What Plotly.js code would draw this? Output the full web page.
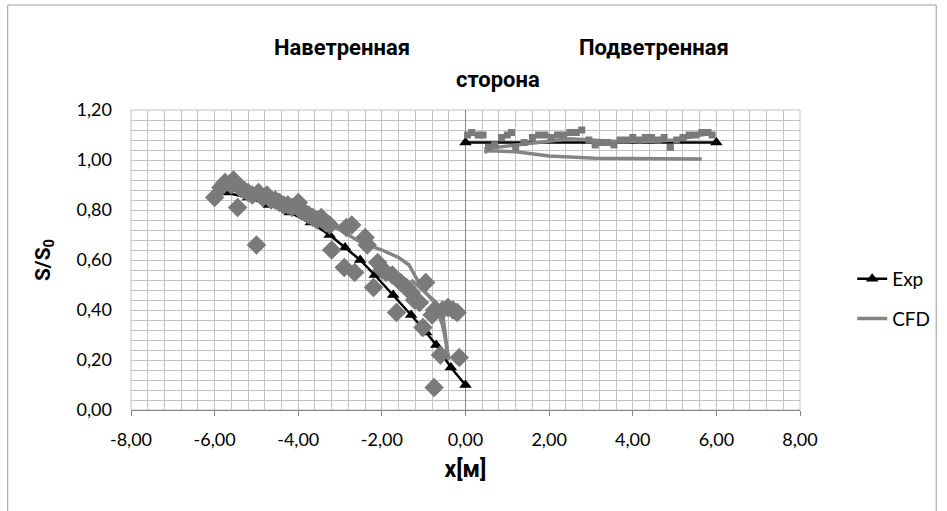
<!DOCTYPE html>
<html>
<head>
<meta charset="utf-8">
<script src="https://cdn.plot.ly/plotly-3.0.1.min.js"></script>
<style>html,body{margin:0;padding:0;background:#fff;}#chart{width:947px;height:511px;}</style>
</head>
<body>
<div id="chart"></div>
<script>
// Exp (black triangles) – windward and leeward sides
const expLeftX = [-5.75, -5.2, -4.7, -4.2, -3.7, -3.25, -2.88, -2.52, -2.17, -1.73, -1.30, -0.94, -0.70, -0.35, 0.0];
const expLeftY = [0.87, 0.85, 0.82, 0.79, 0.75, 0.70, 0.65, 0.60, 0.54, 0.46, 0.38, 0.31, 0.26, 0.17, 0.10];
const expRightX = [0.0, 6.0];
const expRightY = [1.07, 1.07];

// CFD (grey lines)
const cfdLeftX = [-5.8, -5.0, -4.0, -3.0, -2.5, -2.0, -1.6, -1.35, -1.15, -0.95, -0.75, -0.55, -0.45, -0.40];
const cfdLeftY = [0.89, 0.86, 0.80, 0.72, 0.67, 0.64, 0.61, 0.58, 0.52, 0.47, 0.43, 0.34, 0.26, 0.20];
const cfdLeft2X = [-1.3, -1.1, -0.9, -0.7, -0.55, -0.48, -0.44];
const cfdLeft2Y = [0.52, 0.49, 0.46, 0.43, 0.39, 0.30, 0.22];
const cfdRightX = [0.45, 0.55, 1.2, 2.0, 3.1, 4.3, 5.65];
const cfdRightY = [1.030, 1.037, 1.033, 1.016, 1.007, 1.007, 1.004];
const cfdRight2X = [0.45, 1.0, 1.5, 2.0, 2.5, 3.0, 3.5, 4.0, 4.5, 5.0, 5.5, 5.8];
const cfdRight2Y = [1.045, 1.055, 1.065, 1.075, 1.085, 1.08, 1.075, 1.075, 1.075, 1.08, 1.095, 1.105];

// grey diamonds (windward measurements)
const diamondX = [-6.0, -5.85, -5.75, -5.6, -5.55, -5.45, -5.4, -5.3, -5.2, -5.1, -5.0, -4.95, -4.85, -4.75, -4.65, -4.55, -4.45, -4.35, -4.25, -4.15, -4.0, -3.95, -3.85, -3.75, -3.65, -3.55, -3.45, -3.35, -3.25, -3.2, -2.85, -2.9, -2.65, -2.72, -2.4, -2.35, -2.2, -2.1, -2.0, -1.9, -1.75, -1.65, -1.55, -1.41, -1.3, -1.22, -1.1, -0.95, -1.02, -0.8, -0.74, -0.6, -0.55, -0.42, -0.3, -0.2, -0.15, -0.75];
const diamondY = [0.85, 0.89, 0.91, 0.90, 0.92, 0.81, 0.89, 0.88, 0.87, 0.86, 0.66, 0.87, 0.85, 0.86, 0.84, 0.84, 0.83, 0.82, 0.82, 0.81, 0.83, 0.80, 0.79, 0.78, 0.77, 0.76, 0.77, 0.75, 0.74, 0.64, 0.73, 0.57, 0.55, 0.74, 0.69, 0.66, 0.49, 0.59, 0.56, 0.55, 0.54, 0.39, 0.51, 0.49, 0.47, 0.44, 0.43, 0.51, 0.33, 0.38, 0.40, 0.22, 0.40, 0.41, 0.40, 0.39, 0.21, 0.09];

// grey squares (leeward measurements)
const squareX = [0.05, 0.15, 0.3, 0.42, 0.55, 0.7, 0.86, 1.0, 1.1, 1.2, 1.4, 1.6, 1.75, 1.9, 2.05, 2.2, 2.35, 2.5, 2.65, 2.78, 2.95, 3.1, 3.25, 3.4, 3.55, 3.7, 3.85, 4.0, 4.15, 4.3, 4.45, 4.6, 4.75, 4.9, 5.05, 5.2, 5.35, 5.5, 5.65, 5.8, 5.9];
const squareY = [1.10, 1.11, 1.10, 1.10, 1.05, 1.06, 1.09, 1.10, 1.11, 1.05, 1.07, 1.09, 1.10, 1.10, 1.09, 1.10, 1.10, 1.11, 1.11, 1.12, 1.08, 1.06, 1.07, 1.07, 1.06, 1.08, 1.08, 1.09, 1.08, 1.09, 1.09, 1.08, 1.09, 1.05, 1.08, 1.09, 1.10, 1.10, 1.11, 1.11, 1.10];

// tick labels
const xTickVals = [-8, -6, -4, -2, 0, 2, 4, 6, 8];
const xTickText = ['-8,00', '-6,00', '-4,00', '-2,00', '0,00', '2,00', '4,00', '6,00', '8,00'];
const yTickVals = [0, 0.2, 0.4, 0.6, 0.8, 1.0, 1.2];
const yTickText = ['0,00', '0,20', '0,40', '0,60', '0,80', '1,00', '1,20'];

const titleLeft = 'Наветренная';
const titleRight = 'Подветренная';
const titleSecond = 'сторона';

const GREY = '#7a7a7a';
const LINEGREY = '#858585';

const traces = [
  {x: expLeftX.concat([null]).concat(expRightX), y: expLeftY.concat([null]).concat(expRightY),
   name: 'Exp', mode: 'lines+markers', connectgaps: false,
   line: {color: '#000', width: 2.5}, marker: {symbol: 'triangle-up', size: 11, color: '#000'}, legendgroup: 'a'},
  {x: cfdLeftX.concat([null]).concat(cfdRightX), y: cfdLeftY.concat([null]).concat(cfdRightY),
   name: 'CFD', mode: 'lines', connectgaps: false, line: {color: LINEGREY, width: 3.5}, legendgroup: 'b'},
  {x: cfdLeft2X, y: cfdLeft2Y, mode: 'lines', showlegend: false, line: {color: LINEGREY, width: 3.5}},
  {x: cfdRight2X, y: cfdRight2Y, mode: 'lines', showlegend: false, line: {color: LINEGREY, width: 3.5}},
  {x: diamondX, y: diamondY, mode: 'markers', showlegend: false,
   marker: {symbol: 'diamond', size: 15, color: GREY}},
  {x: squareX, y: squareY, mode: 'markers', showlegend: false,
   marker: {symbol: 'square', size: 7, color: GREY}}
];

const tickFont = {family: 'Lato, Roboto, sans-serif', size: 18, color: '#000'};
const titleFont = {family: 'Roboto, sans-serif', size: 22, color: '#000'};
const layout = {
  width: 947, height: 511,
  margin: {l: 131, r: 144, t: 110, b: 101, pad: 0},
  paper_bgcolor: '#fff', plot_bgcolor: '#fff',
  separators: ', ',
  showlegend: true,
  legend: {x: 1.078, y: 0.37, xanchor: 'left', yanchor: 'middle', font: {family: 'Lato, Roboto, sans-serif', size: 19, color: '#000'},
           tracegroupgap: 12, bgcolor: 'rgba(0,0,0,0)'},
  xaxis: {
    range: [-8, 8], tickmode: 'array', tickvals: xTickVals, ticktext: xTickText,
    showgrid: true, gridcolor: '#c3c3c3', gridwidth: 1,
    minor: {tickmode: 'linear', tick0: -8, dtick: 0.4, showgrid: true, gridcolor: '#c3c3c3', gridwidth: 1, ticks: ''},
    zeroline: true, zerolinecolor: '#868686', zerolinewidth: 1,
    showline: true, linecolor: '#868686', linewidth: 1,
    ticks: 'outside', ticklen: 5, tickcolor: '#868686',
    tickfont: tickFont, ticklabelstandoff: 8,
    title: {text: '<b>x[м]</b>', font: {family: 'Roboto, sans-serif', size: 23, color: '#000'}, standoff: 12}
  },
  yaxis: {
    range: [0, 1.2], tickmode: 'array', tickvals: yTickVals, ticktext: yTickText,
    showgrid: true, gridcolor: '#c3c3c3', gridwidth: 1,
    minor: {tickmode: 'linear', tick0: 0, dtick: 0.04, showgrid: true, gridcolor: '#c3c3c3', gridwidth: 1, ticks: ''},
    zeroline: false, showline: false, ticks: '',
    tickfont: tickFont, ticklabelstandoff: 18,
    title: {text: '<b>S/S<sub>0</sub></b>', font: {family: 'Roboto, sans-serif', size: 21, color: '#000'}, standoff: 20}
  },
  annotations: [
    {xref: 'paper', yref: 'paper', x: 0.315, y: 1.207, text: '<b>' + titleLeft + '</b>', showarrow: false,
     font: titleFont, xanchor: 'center', yanchor: 'middle'},
    {xref: 'paper', yref: 'paper', x: 0.782, y: 1.207, text: '<b>' + titleRight + '</b>', showarrow: false,
     font: titleFont, xanchor: 'center', yanchor: 'middle'},
    {xref: 'paper', yref: 'paper', x: 0.548, y: 1.10, text: '<b>' + titleSecond + '</b>', showarrow: false,
     font: titleFont, xanchor: 'center', yanchor: 'middle'}
  ],
  shapes: [
    {type: 'rect', xref: 'paper', yref: 'paper', x0: 0, x1: 1, y0: 0, y1: 1, line: {color: '#c3c3c3', width: 1}, layer: 'below'},
    {type: 'line', xref: 'paper', yref: 'paper', x0: -0.1843, x1: 1.2036, y0: 1.35, y1: 1.35, line: {color: '#9a9a9a', width: 1}},
    {type: 'line', xref: 'paper', yref: 'paper', x0: -0.1843, x1: -0.1843, y0: 1.35, y1: -0.4, line: {color: '#9a9a9a', width: 1}},
    {type: 'line', xref: 'paper', yref: 'paper', x0: 1.2036, x1: 1.2036, y0: 1.35, y1: -0.4, line: {color: '#9a9a9a', width: 1}}
  ]
};

Plotly.newPlot('chart', traces, layout, {displayModeBar: false, staticPlot: true});
</script>
</body>
</html>
